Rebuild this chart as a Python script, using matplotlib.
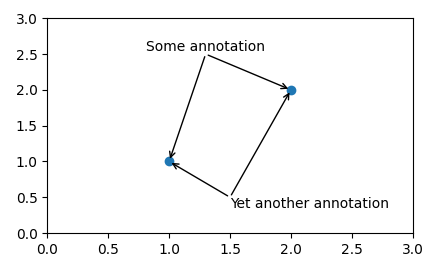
import matplotlib
matplotlib.use("Agg")
import matplotlib.pyplot as plt

# data points
xs = [1, 2]
ys = [1, 2]

# annotation labels and where their arrows start
labels = ["Some annotation", "Yet another annotation"]
label_pos = [(1.3, 2.5), (1.5, 0.5)]


def main():
    fig = plt.figure(figsize=(4.4, 2.61), dpi=100)
    ax = fig.add_axes((0.1075, 0.107, 0.8305, 0.823))
    ax.plot(xs, ys, "o")

    for (tx, ty), label, ha, va in zip(label_pos, labels,
                                       ["center", "left"], ["bottom", "top"]):
        for px, py in zip(xs, ys):
            ax.annotate("", xy=(px, py), xytext=(tx, ty),
                        arrowprops=dict(arrowstyle="->", color="black", lw=1))
        ax.text(tx, ty, label, ha=ha, va=va, fontsize=10)

    ax.set_xlim(0, 3)
    ax.set_ylim(0, 3)
    fig.savefig("out.png", dpi=100)
    plt.close(fig)


if __name__ == "__main__":
    main()
